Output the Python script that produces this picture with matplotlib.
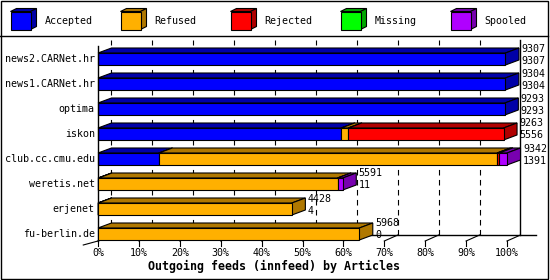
import numpy as np
import matplotlib
matplotlib.use("Agg")
import matplotlib.pyplot as plt
from matplotlib.patches import Polygon, Rectangle


# ----------------------------
# Data (articles per outgoing feed)
# ----------------------------

feeds = ["news2.CARNet.hr", "news1.CARNet.hr", "optima", "iskon",
         "club.cc.cmu.edu", "weretis.net", "erjenet", "fu-berlin.de"]
categories = ["Accepted", "Refused", "Rejected", "Missing", "Spooled"]

accepted = [9307, 9304, 9293, 5556, 1391, 11, 4, 0]
refused  = [0, 0, 0, 160, 7726, 5460, 4424, 5968]
rejected = [0, 0, 0, 3547, 45, 0, 0, 0]
missing  = [0, 0, 0, 0, 0, 0, 0, 0]
spooled  = [0, 0, 0, 0, 180, 120, 0, 0]

x_ticks = [0, 10, 20, 30, 40, 50, 60, 70, 80, 90, 100]
x_title = "Outgoing feeds (innfeed) by Articles"


# ----------------------------
# Style
# ----------------------------

face  = ["#0000ff", "#ffb000", "#ff0000", "#00ff00", "#b000ff"]
shade = ["#0000a8", "#b07800", "#b00000", "#00a800", "#7800b0"]
mono = "DejaVu Sans Mono"
fs = 7.2

W, H = 550, 280
fig = plt.figure(figsize=(W / 100, H / 100), dpi=100)
fig.patch.set_facecolor("white")

# pixel overlay for frame + legend
bg = fig.add_axes([0, 0, 1, 1])
bg.set_xlim(0, W)
bg.set_ylim(H, 0)
bg.axis("off")
bg.add_patch(Rectangle((0.5, 0.5), W - 2.5, H - 2, fill=False, lw=1, ec="black"))
bg.plot([0, W - 2], [36, 36], color="black", lw=1)

for i, name in enumerate(categories):
    x0 = 10.5 + 110 * i
    bg.add_patch(Polygon([(x0, 11.5), (x0 + 6, 8.5), (x0 + 26, 8.5), (x0 + 20, 11.5)],
                         closed=True, fc=shade[i], ec="black", lw=0.8))
    bg.add_patch(Polygon([(x0 + 20, 11.5), (x0 + 26, 8.5), (x0 + 26, 26.5), (x0 + 20, 29.5)],
                         closed=True, fc=shade[i], ec="black", lw=0.8))
    bg.add_patch(Rectangle((x0, 11.5), 20, 18, fc=face[i], ec="black", lw=0.8))
    bg.text(x0 + 34, 20.5, name, family=mono, fontsize=fs, va="center", ha="left")


# ----------------------------
# Main chart (x in % of largest feed, y in rows)
# ----------------------------

ax = fig.add_axes([98 / W, (H - 241) / H, 409 / W, (241 - 45) / H])
ax.set_xlim(0, 100)
ax.set_ylim(7.28, -0.56)
ax.axis("off")

dx, dy = 3.3, 0.2      # depth offset (percent, rows)
hh = 0.24              # half bar height (rows)

series = np.array([accepted, refused, rejected, missing, spooled], dtype=float)
totals = series.sum(axis=0)
scale = 100.0 / totals.max()

# back wall grid
for t in x_ticks[:-1]:
    ax.plot([t + dx, t + dx], [7.04, -0.76], color="black", lw=0.8,
            ls=(0, (5, 4)), zorder=1, clip_on=False)
ax.plot([100 + dx, 100 + dx], [7.04, -0.76], color="black", lw=1, zorder=1, clip_on=False)

# floor + ticks
ax.plot([dx, 107], [7.04, 7.04], color="black", lw=1, zorder=1, clip_on=False)
for t in x_ticks:
    ax.plot([t, t + dx], [7.28, 7.04], color="black", lw=0.8, zorder=1, clip_on=False)
    ax.plot([t, t], [7.28, 7.46], color="black", lw=0.8, zorder=1, clip_on=False)
    ax.text(t, 7.76, f"{t}%", family=mono, fontsize=fs, ha="center", va="center")
ax.plot([-3.6, 0], [7.44, 7.28], color="black", lw=0.8, clip_on=False)
ax.plot([0, 0], [-0.52, 7.28], color="black", lw=1, zorder=20, clip_on=False)

# 3D stacked bars
z = 5
for r, feed in enumerate(feeds):
    left = 0.0
    for k in range(len(categories)):
        w = series[k, r] * scale
        if w <= 0:
            continue
        x0, x1 = left, left + w
        top, bot = r - hh, r + hh
        ax.add_patch(Polygon([(x0, top), (x1, top), (x1 + dx, top - dy), (x0 + dx, top - dy)],
                             closed=True, fc=shade[k], ec="black", lw=0.8, zorder=z, clip_on=False))
        ax.add_patch(Polygon([(x1, top), (x1 + dx, top - dy), (x1 + dx, bot - dy), (x1, bot)],
                             closed=True, fc=shade[k], ec="black", lw=0.8, zorder=z, clip_on=False))
        ax.add_patch(Rectangle((x0, top), w, 2 * hh, fc=face[k], ec="black", lw=0.8,
                               zorder=z + 1, clip_on=False))
        left = x1
        z += 2
    xe = left + dx + 0.6
    ax.text(xe, r - 0.42, f"{int(totals[r])}", family=mono, fontsize=fs,
            ha="left", va="center", zorder=30, clip_on=False)
    ax.text(xe, r + 0.06, f"{int(accepted[r])}", family=mono, fontsize=fs,
            ha="left", va="center", zorder=30, clip_on=False)
    ax.text(-0.8, r, feed, family=mono, fontsize=fs, ha="right", va="center", clip_on=False)

fig.text(274 / W, 1 - 266 / H, x_title, family=mono, fontsize=8.4, fontweight="bold",
         ha="center", va="center")

fig.savefig("out.png", dpi=100)
